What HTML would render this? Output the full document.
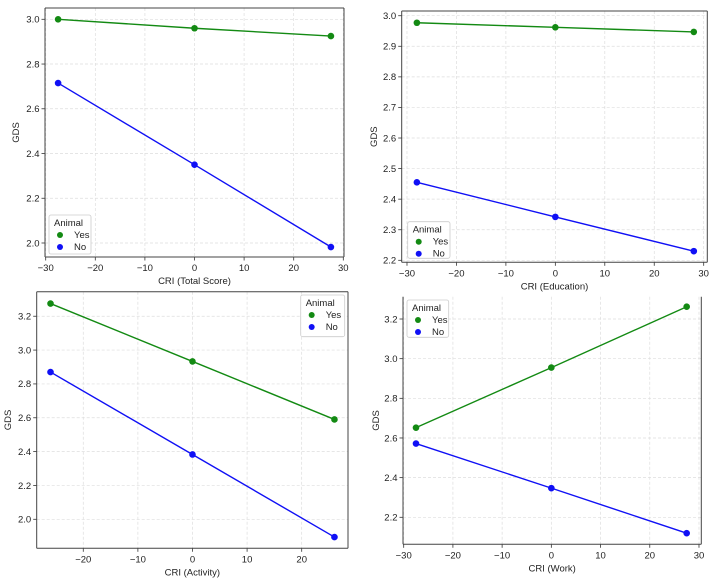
<!DOCTYPE html>
<html><head><meta charset="utf-8">
<style>
html,body{margin:0;padding:0;background:#fff;}
svg{display:block;font-family:"Liberation Sans","DejaVu Sans",sans-serif;}
</style></head>
<body>
<svg id="fig" width="716" height="578" viewBox="0 0 716 578" xmlns="http://www.w3.org/2000/svg"></svg>
<script>
// Panel 1: CRI (Total Score)
const p1X = [-27.5, 0, 27.5];
const p1Yes = [3.0, 2.96, 2.925];
const p1No = [2.715, 2.35, 1.982];
const p1XTicks = [-30, -20, -10, 0, 10, 20, 30];
const p1YTicks = [2.0, 2.2, 2.4, 2.6, 2.8, 3.0];
// Panel 2: CRI (Education)
const p2X = [-28, 0, 28];
const p2Yes = [2.977, 2.962, 2.947];
const p2No = [2.455, 2.342, 2.230];
const p2XTicks = [-30, -20, -10, 0, 10, 20, 30];
const p2YTicks = [2.2, 2.3, 2.4, 2.5, 2.6, 2.7, 2.8, 2.9, 3.0];
// Panel 3: CRI (Activity)
const p3X = [-26, 0, 26];
const p3Yes = [3.275, 2.933, 2.59];
const p3No = [2.87, 2.383, 1.895];
const p3XTicks = [-20, -10, 0, 10, 20];
const p3YTicks = [2.0, 2.2, 2.4, 2.6, 2.8, 3.0, 3.2];
// Panel 4: CRI (Work)
const p4X = [-27.5, 0, 27.5];
const p4Yes = [2.652, 2.955, 3.262];
const p4No = [2.572, 2.347, 2.12];
const p4XTicks = [-30, -20, -10, 0, 10, 20, 30];
const p4YTicks = [2.2, 2.4, 2.6, 2.8, 3.0, 3.2];

const NS = "http://www.w3.org/2000/svg";
const fig = document.getElementById('fig');
function mk(tag, attrs, parent) {
  const e = document.createElementNS(NS, tag);
  for (const k in attrs) e.setAttribute(k, attrs[k]);
  parent.appendChild(e);
  return e;
}
function fmtY(v, dec) { return v.toFixed(dec); }
function fmtX(v) { return v < 0 ? '\u2212' + Math.abs(v) : String(v); }

function panel(cfg) {
  const g = mk('g', {}, fig);
  
  
  const L = cfg.box[0], T = cfg.box[1], R = cfg.box[2], B = cfg.box[3];
  const sx = v => L + (v - cfg.xr[0]) / (cfg.xr[1] - cfg.xr[0]) * (R - L);
  const sy = v => B - (v - cfg.yr[0]) / (cfg.yr[1] - cfg.yr[0]) * (B - T);
  // grid
  cfg.xt.forEach(t => {
    const x = sx(t);
    const gl = mk('line', {x1:x, x2:x, y1:T, y2:B, stroke:'#ddd', 'stroke-width':0.7, 'stroke-dasharray':'3,2'}, g);
    
    
    const tk = mk('line', {x1:x, x2:x, y1:B, y2:B+3.5, stroke:'#333', 'stroke-width':0.8}, g);
    
    
    const tl = mk('text', {x:x, y:B+14, 'font-size':9.5, fill:'#222', 'text-anchor':'middle'}, g);
    tl.textContent = fmtX(t);
    
    
  });
  cfg.yt.forEach(t => {
    const y = sy(t);
    const gl = mk('line', {x1:L, x2:R, y1:y, y2:y, stroke:'#ddd', 'stroke-width':0.7, 'stroke-dasharray':'3,2'}, g);
    
    
    const tk = mk('line', {x1:L-3.5, x2:L, y1:y, y2:y, stroke:'#333', 'stroke-width':0.8}, g);
    
    
    const tl = mk('text', {x:L-5.5, y:y+3.3, 'font-size':9.5, fill:'#222', 'text-anchor':'end'}, g);
    tl.textContent = fmtY(t, 1);
    
    
  });
  // spines
  const sp = {stroke:'#444', 'stroke-width':1};
  const s1 = mk('line', Object.assign({x1:L, x2:L, y1:T, y2:B}, sp), g);
  
  
  const s2 = mk('line', Object.assign({x1:L, x2:R, y1:B, y2:B}, sp), g);
  
  
  const s3 = mk('line', Object.assign({x1:R, x2:R, y1:T, y2:B}, sp), g);
  
  
  if (cfg.top) {
    const s4 = mk('line', Object.assign({x1:L, x2:R, y1:T, y2:T}, sp), g);
    
    
  }
  // series
  [[cfg.yes, '#138a13', 'yes'], [cfg.no, '#1010f5', 'no']].forEach(([vals, col, nm]) => {
    const pts = cfg.x.map((xv, i) => sx(xv) + ',' + sy(vals[i])).join(' ');
    const pl = mk('polyline', {points:pts, fill:'none', stroke:col, 'stroke-width':1.4}, g);
    
    
    cfg.x.forEach((xv, i) => {
      const c = mk('circle', {cx:sx(xv), cy:sy(vals[i]), r:3.3, fill:col}, g);
      
      
    });
  });
  // labels
  const xl = mk('text', {x:(L+R)/2, y:B+27, 'font-size':9.5, fill:'#222', 'text-anchor':'middle'}, g);
  xl.textContent = cfg.xlabel;
  
  
  const yx = cfg.ylx, yy = (T+B)/2;
  const yl = mk('text', {x:yx, y:yy, 'font-size':9.5, fill:'#222', 'text-anchor':'middle', transform:'rotate(-90 '+yx+' '+yy+')'}, g);
  yl.textContent = 'GDS';
  
  
  // legend
  const [lx, ly, lx2, ly2] = cfg.leg;
  const lg = mk('g', {}, g);
  
  
  mk('rect', {x:lx, y:ly, width:lx2-lx, height:ly2-ly, rx:2, fill:'#fff', 'fill-opacity':0.85, stroke:'#ccc', 'stroke-width':0.8}, lg);
  const lt = mk('text', {x:lx+5, y:ly+11, 'font-size':9.5, fill:'#222'}, lg);
  lt.textContent = 'Animal';
  
  
  [['Yes', '#138a13', 23], ['No', '#1010f5', 35]].forEach(([t, col, dy]) => {
    const e = mk('g', {}, lg);
    
    
    mk('circle', {cx:lx+11, cy:ly+dy-3, r:3, fill:col}, e);
    const tx = mk('text', {x:lx+25, y:ly+dy, 'font-size':9.5, fill:'#222'}, e);
    tx.textContent = t;
  });
}

panel({name:'panel-total-score', box:[45,8,344,257], xr:[-30.14,30.14], yr:[1.9374,3.0505], top:true,
  x:p1X, yes:p1Yes, no:p1No, xt:p1XTicks, yt:p1YTicks, xlabel:'CRI (Total Score)', ylx:19, leg:[49,215,91,254]});
panel({name:'panel-education', box:[401.7,11,707.3,262.3], xr:[-31.07,30.73], yr:[2.1935,3.0154], top:true,
  x:p2X, yes:p2Yes, no:p2No, xt:p2XTicks, yt:p2YTicks, xlabel:'CRI (Education)', ylx:377, leg:[407.7,221.7,450,258.3]});
panel({name:'panel-activity', box:[36.7,291.7,348,548.3], xr:[-28.53,28.48], yr:[1.8286,3.345], top:true,
  x:p3X, yes:p3Yes, no:p3No, xt:p3XTicks, yt:p3YTicks, xlabel:'CRI (Activity)', ylx:11, leg:[300.7,295,344.7,336.7]});
panel({name:'panel-work', box:[403,296.7,701.3,544.3], xr:[-30.14,30.47], yr:[2.0638,3.3125], top:false,
  x:p4X, yes:p4Yes, no:p4No, xt:p4XTicks, yt:p4YTicks, xlabel:'CRI (Work)', ylx:379, leg:[407,300,448.7,337.3]});
</script>
</body></html>
